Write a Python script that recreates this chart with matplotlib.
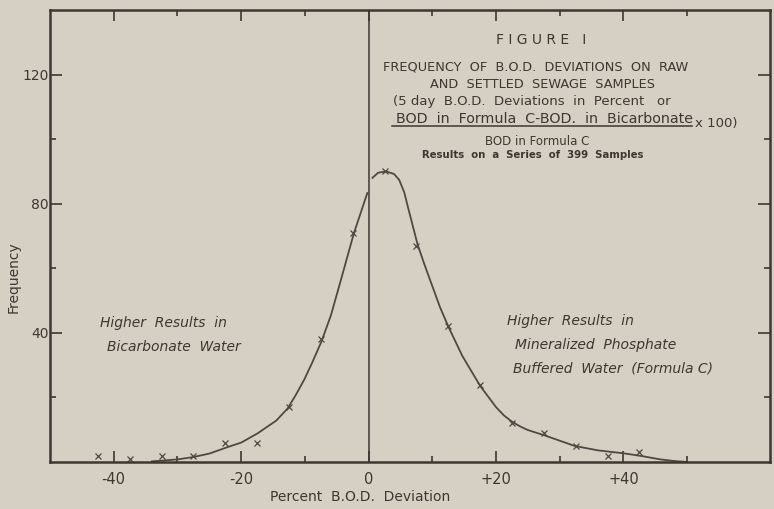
import matplotlib
matplotlib.use('Agg')
import matplotlib.pyplot as plt
from matplotlib.ticker import FixedLocator

# observed points: percent deviation (class mid-points) and frequency
dev_mid = [-42.5, -37.5, -32.5, -27.5, -22.5, -17.5, -12.5, -7.5, -2.5,
           2.5, 7.5, 12.5, 17.5, 22.5, 27.5, 32.5, 37.5, 42.5]
freq = [2, 1, 2, 2, 6, 6, 17, 38, 71,
        90, 67, 42, 24, 12, 9, 5, 2, 3]

# hand-drawn smooth curve (left and right of zero)
curve_left_x = [-34, -30, -27.6, -25, -22, -20, -17.4, -14.5, -12.7, -11.5,
                -10.1, -8.8, -7.4, -5.9, -4.4, -2.3, -0.2]
curve_left_y = [0.2, 0.8, 1.5, 2.6, 4.7, 6.0, 8.9, 12.8, 16.6, 20.5,
                25.5, 31.0, 37.3, 45.5, 56.0, 70.9, 83.3]
curve_right_x = [0.6, 1.5, 2.8, 4.0, 4.8, 5.6, 6.3, 7.7, 8.8, 10.0, 11.2, 12.5,
                 14.7, 17.5, 20.0, 21.2, 22.5, 23.8, 25.0, 27.7, 30.0, 32.3,
                 36.0, 40.0, 43.0, 45.8, 48.0, 50.0]
curve_right_y = [88.0, 89.6, 90.0, 89.2, 87.4, 83.5, 78.0, 67.3, 61.0, 54.5, 48.0, 42.0,
                 32.9, 23.6, 17.0, 14.5, 12.5, 11.0, 9.9, 8.2, 6.6, 5.0,
                 3.6, 2.7, 1.8, 0.8, 0.3, 0.0]

xticks_major = [-40, -20, 0, 20, 40]
xtick_labels = ['-40', '-20', '0', '+20', '+40']
xticks_minor = [-30, -10, 10, 30, 50]
yticks_major = [40, 80, 120]
yticks_minor = [20, 60, 100]

BG = '#d6d0c4'
INK = '#3d3732'
LINE = '#4f4842'

W, H = 774, 509
fig = plt.figure(figsize=(W / 100, H / 100), dpi=100, facecolor=BG)
ax = fig.add_axes([50 / W, 1 - 462 / H, 720 / W, 452 / H])
ax.set_facecolor(BG)

ax.plot(curve_left_x, curve_left_y, color=LINE, lw=1.3)
ax.plot(curve_right_x, curve_right_y, color=LINE, lw=1.3)
ax.plot(dev_mid, freq, linestyle='none', marker='x', markersize=4,
        markeredgewidth=0.9, color=LINE)
ax.axvline(0, color=INK, lw=1.1)

ax.set_xlim(-50, 63)
ax.set_ylim(0, 140)

for s in ax.spines.values():
    s.set_color(INK)
    s.set_linewidth(1.8)

ax.xaxis.set_major_locator(FixedLocator(xticks_major))
ax.xaxis.set_minor_locator(FixedLocator(xticks_minor))
ax.set_xticklabels(xtick_labels)
ax.yaxis.set_major_locator(FixedLocator(yticks_major))
ax.yaxis.set_minor_locator(FixedLocator(yticks_minor))
ax.set_yticklabels([str(v) for v in yticks_major])

ax.tick_params(which='both', direction='in', top=True, right=True,
               color=INK, width=1.2, labelcolor=INK)
ax.tick_params(axis='x', which='major', length=8, pad=7, labelsize=10.5)
ax.tick_params(axis='x', which='minor', length=4.5)
ax.tick_params(axis='y', which='major', length=8.5, pad=1, labelsize=10)
ax.tick_params(axis='y', which='minor', length=4)


def px(x, y):
    return x / W, 1 - y / H


fig.text(*px(360, 497), 'Percent  B.O.D.  Deviation', ha='center', va='center',
         fontsize=10, color=INK)
fig.text(*px(14, 277), 'Frequency', ha='center', va='center', rotation=90,
         fontsize=10, color=INK)

# notes inside the plot
ital = dict(fontsize=10, style='italic', color=INK, va='center', ha='left')
fig.text(*px(100, 323), 'Higher  Results  in', **ital)
fig.text(*px(107, 347), 'Bicarbonate  Water', **ital)
fig.text(*px(507, 321), 'Higher  Results  in', **ital)
fig.text(*px(515, 345), 'Mineralized  Phosphate', **ital)
fig.text(*px(513, 368), 'Buffered  Water  (Formula C)', **ital)

# title block
fig.text(*px(541, 40), 'F I G U R E   I', ha='center', va='center', fontsize=10,
         color=INK)
fig.text(*px(536, 67), 'FREQUENCY  OF  B.O.D.  DEVIATIONS  ON  RAW', ha='center',
         va='center', fontsize=9.3, color=INK)
fig.text(*px(543, 84), 'AND  SETTLED  SEWAGE  SAMPLES', ha='center', va='center',
         fontsize=9.3, color=INK)
fig.text(*px(532, 102), '(5 day  B.O.D.  Deviations  in  Percent   or', ha='center',
         va='center', fontsize=9.5, color=INK)
fig.text(*px(544, 119), 'BOD  in  Formula  C-BOD.  in  Bicarbonate', ha='center',
         va='center', fontsize=10.3, color=INK)
fig.add_artist(plt.Line2D([392 / W, 692 / W], [1 - 126 / H, 1 - 126 / H],
                          color=INK, lw=1.1))
fig.text(*px(695, 124), 'x 100)', ha='left', va='center', fontsize=9.5, color=INK)
fig.text(*px(537, 142), 'BOD in Formula C', ha='center', va='center',
         fontsize=8.5, color=INK)
fig.text(*px(533, 155), 'Results  on  a  Series  of  399  Samples', ha='center',
         va='center', fontsize=7.3, fontweight='bold', color=INK)

fig.savefig('out.png', dpi=100, facecolor=BG)
